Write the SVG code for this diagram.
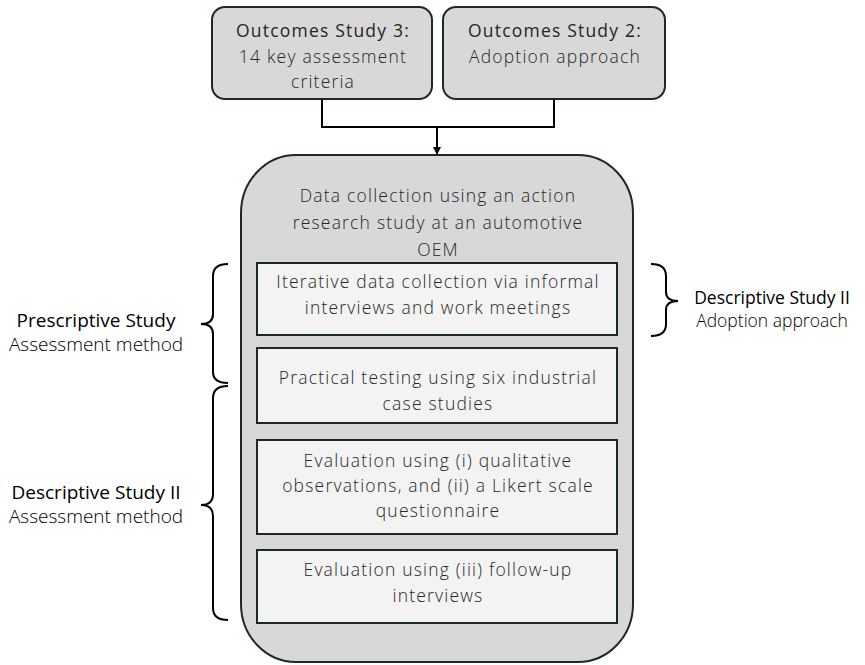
<svg xmlns="http://www.w3.org/2000/svg" width="865" height="665" viewBox="0 0 865 665">
  <style>
    .txt { font-family: "Open Sans", "Liberation Sans", sans-serif; fill: #262626; text-anchor: middle; font-size: 17.5px; letter-spacing: 1.2px; }
    .lt { font-weight: 300; }
    .rg { font-weight: 400; }
    .side { font-family: "Open Sans", "Liberation Sans", sans-serif; fill: #000; text-anchor: middle; font-size: 19px; }
    .sideR { font-size: 17.5px; }
    .sideSub { font-weight: 300; }
    .grey { fill: #d8d8d8; stroke: #1c2a26; stroke-width: 2; }
    .inner { fill: #f3f3f3; stroke: #1c2a26; stroke-width: 2; }
    .wire { fill: none; stroke: #000; stroke-width: 2; }
    .brace { fill: none; stroke: #000; stroke-width: 2; }
  </style>
  <defs>
    <marker id="arrow" markerWidth="8" markerHeight="8" refX="7" refY="4" orient="auto" markerUnits="userSpaceOnUse">
      <path d="M0,0 L8,4 L0,8 z" fill="#000"/>
    </marker>
  </defs>
  <rect width="865" height="665" fill="#ffffff"/>

  <!-- connectors -->
  <g id="connectors">
    <path class="wire" d="M322,99 V127 H554 V99"/>
    <path class="wire" d="M437,127 V154" marker-end="url(#arrow)"/>
  </g>

  <!-- inputs -->
  <g id="outcomes3">
    <rect class="grey" x="212" y="7" width="220" height="92" rx="13"/>
    <text class="txt rg" x="323" y="37">Outcomes Study 3:</text>
    <text class="txt lt" x="323" y="63">14 key assessment</text>
    <text class="txt lt" x="323" y="88">criteria</text>
  </g>
  <g id="outcomes2">
    <rect class="grey" x="443" y="7" width="222" height="92" rx="13"/>
    <text class="txt rg" x="555" y="37">Outcomes Study 2:</text>
    <text class="txt lt" x="555" y="63">Adoption approach</text>
  </g>

  <!-- action research container -->
  <g id="actionResearch">
    <rect class="grey" x="241" y="155" width="392" height="507" rx="55" ry="58"/>
    <text class="txt lt" x="438" y="202">Data collection using an action</text>
    <text class="txt lt" x="438" y="229">research study at an automotive</text>
    <text class="txt lt" x="438" y="256">OEM</text>
  </g>
  <g id="iterative">
    <rect class="inner" x="257" y="263" width="360" height="72"/>
    <text class="txt lt" x="438" y="288">Iterative data collection via informal</text>
    <text class="txt lt" x="438" y="314">interviews and work meetings</text>
  </g>
  <g id="practical">
    <rect class="inner" x="257" y="348" width="360" height="75"/>
    <text class="txt lt" x="438" y="384">Practical testing using six industrial</text>
    <text class="txt lt" x="438" y="410">case studies</text>
  </g>
  <g id="evaluation12">
    <rect class="inner" x="257" y="440" width="360" height="94"/>
    <text class="txt lt" x="438" y="467">Evaluation using (i) qualitative</text>
    <text class="txt lt" x="438" y="492">observations, and (ii) a Likert scale</text>
    <text class="txt lt" x="438" y="517">questionnaire</text>
  </g>
  <g id="evaluation3">
    <rect class="inner" x="257" y="550" width="360" height="73"/>
    <text class="txt lt" x="438" y="576">Evaluation using (iii) follow-up</text>
    <text class="txt lt" x="438" y="602">interviews</text>
  </g>

  <!-- study phase annotations -->
  <g id="prescriptive">
    <path class="brace" d="M228,264 Q213,264 213,276 V314 Q213,324 201,324 Q213,324 213,334 V372 Q213,383 228,383"/>
    <text class="side" x="96" y="327">Prescriptive Study</text>
    <text class="side sideSub" x="96" y="351">Assessment method</text>
  </g>
  <g id="descriptiveAssessment">
    <path class="brace" d="M228,386 Q213,386 213,398 V494 Q213,505 201,505 Q213,505 213,516 V608 Q213,620 228,620"/>
    <text class="side" x="96" y="499">Descriptive Study II</text>
    <text class="side sideSub" x="96" y="523">Assessment method</text>
  </g>
  <g id="descriptiveAdoption">
    <path class="brace" d="M651,264 Q666,264 666,276 V292 Q666,301 678,301 Q666,301 666,310 V324 Q666,336 651,336"/>
    <text class="side sideR" x="772" y="304">Descriptive Study II</text>
    <text class="side sideR sideSub" x="772" y="327">Adoption approach</text>
  </g>
</svg>
